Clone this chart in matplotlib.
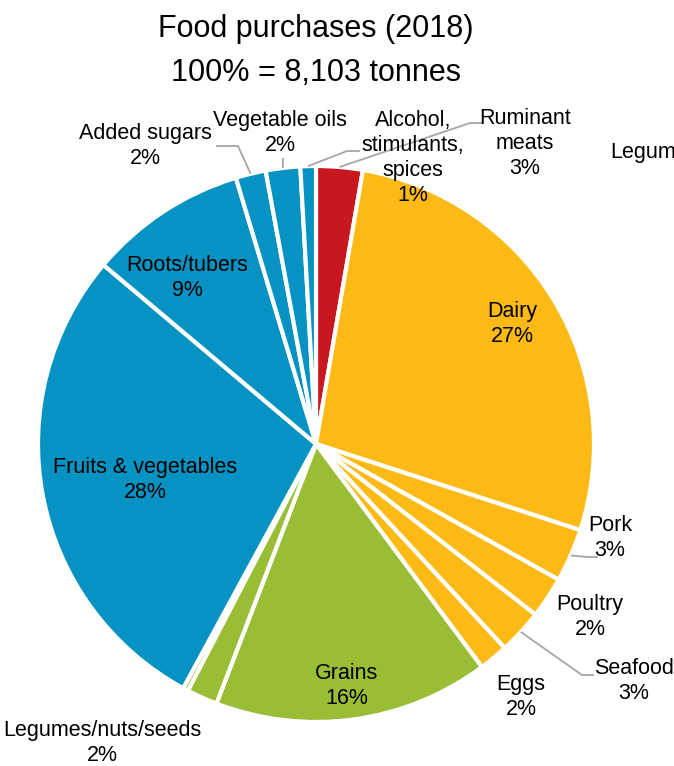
import numpy as np
import matplotlib.pyplot as plt

# food groups, clockwise from 12 o'clock, share of purchases in %
groups = ["Ruminant meats", "Dairy", "Pork", "Poultry", "Seafood", "Eggs",
          "Grains", "Legumes/nuts/seeds", "Other", "Fruits & vegetables",
          "Roots/tubers", "Added sugars", "Vegetable oils",
          "Alcohol, stimulants, spices"]
shares = [2.7, 27.3, 3.1, 2.4, 2.6, 1.7, 16.0, 1.8, 0.3, 28.2, 9.2, 1.75, 2.0, 0.9]
total_tonnes = 8103

RED = "#C8171F"
ORANGE = "#FDB914"
GREEN = "#99BE36"
BLUE = "#0693C4"
colors = [RED, ORANGE, ORANGE, ORANGE, ORANGE, ORANGE,
          GREEN, GREEN, GREEN, BLUE, BLUE, BLUE, BLUE, BLUE]

plt.rcParams['font.family'] = ['Liberation Sans', 'DejaVu Sans']

W, H = 674, 766
CX, CY, R = 316, 444, 278


def px(x, y):
    # pixel position on the canvas -> data units of the pie (radius 1)
    return (x - CX) / R, (CY - y) / R


fig = plt.figure(figsize=(W / 100, H / 100), dpi=100)
ax = fig.add_axes([0, 0, 1, 1])

wedges, _ = ax.pie(shares, colors=colors, startangle=90, counterclock=False,
                   radius=1, center=(0, 0), frame=True,
                   wedgeprops=dict(edgecolor='white', linewidth=3))
ax.set_xlim(-CX / R, (W - CX) / R)
ax.set_ylim((CY - H) / R, CY / R)
ax.set_aspect('equal')
ax.axis('off')


def edge_point(i, frac=0.5):
    w = wedges[i]
    a = np.deg2rad(w.theta1 + frac * (w.theta2 - w.theta1))
    return np.cos(a), np.sin(a)


def pct(i):
    return "{:.0f}%".format(shares[i])


fs = 15.5
labels = {
    0: ("Ruminant\nmeats", 525, 143),
    1: ("Dairy", 512, 324),
    2: ("Pork", 610, 538),
    3: ("Poultry", 590, 617),
    4: ("Seafood", 634, 681),
    5: ("Eggs", 521, 697),
    6: ("Grains", 347, 686),
    7: ("Legumes/nuts/seeds", 102, 743),
    9: ("Fruits & vegetables", 145, 480),
    10: ("Roots/tubers", 187, 278),
    11: ("Added sugars", 145, 146),
    12: ("Vegetable oils", 280, 133),
    13: ("Alcohol,\nstimulants,\nspices", 413, 158),
}
for i, (name, x, y) in labels.items():
    ax.text(*px(x, y), name + "\n" + pct(i), ha='center', va='center',
            fontsize=fs, linespacing=1.25, color='black')

# leader lines for the small slices
grey = "#A6A6A6"
leaders = {
    0: [(470, 123), (482, 123)],
    2: [(588, 557), (598, 557)],
    4: [(582, 675), (594, 675)],
    11: [(238, 146), (216, 146)],
    12: [(283, 158)],
    13: [(347, 151), (360, 151)],
}
for i, pts in leaders.items():
    xs, ys = [edge_point(i)[0]], [edge_point(i)[1]]
    for x, y in pts:
        dx, dy = px(x, y)
        xs.append(dx)
        ys.append(dy)
    ax.plot(xs, ys, color=grey, lw=1.3, solid_capstyle='butt')

# neighbouring panel label running off the right edge
ax.text(*px(610, 152), "Legumes", ha='left', va='center', fontsize=fs,
        clip_on=False)

fig.text(CX / W, 1 - 29 / H, "Food purchases (2018)", ha='center', va='center',
         fontsize=22)
fig.text(CX / W, 1 - 73 / H, "100% = {:,} tonnes".format(total_tonnes),
         ha='center', va='center', fontsize=22)

fig.savefig("out.png", dpi=100)
